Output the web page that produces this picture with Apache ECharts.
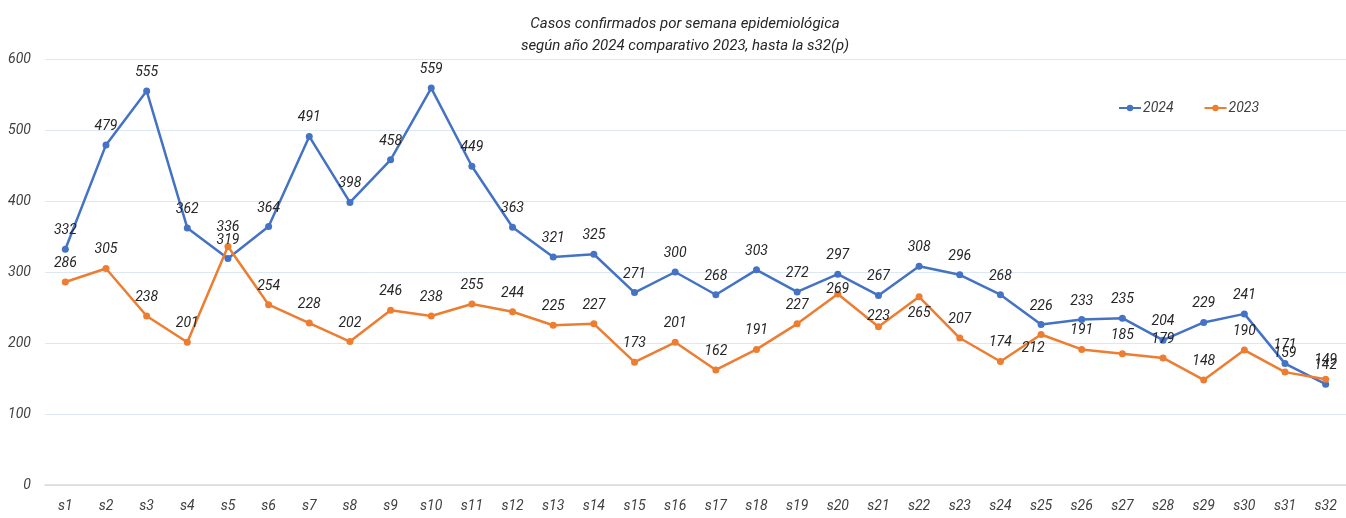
<!DOCTYPE html>
<html><head><meta charset="utf-8">
<script src="https://cdn.jsdelivr.net/npm/echarts@6/dist/echarts.min.js"></script>
<style>html,body{margin:0;padding:0;background:#fff}#c{width:1346px;height:518px}</style>
</head><body><div id="c"></div>
<script>
const categories = ['s1','s2','s3','s4','s5','s6','s7','s8','s9','s10','s11','s12','s13','s14','s15','s16','s17','s18','s19','s20','s21','s22','s23','s24','s25','s26','s27','s28','s29','s30','s31','s32'];
const values2024 = [332,479,555,362,319,364,491,398,458,559,449,363,321,325,271,300,268,303,272,297,267,308,296,268,226,233,235,204,229,241,171,142];
const values2023 = [286,305,238,201,336,254,228,202,246,238,255,244,225,227,173,201,162,191,227,269,223,265,207,174,212,191,185,179,148,190,159,149];
const yTicks = [0,100,200,300,400,500,600];
const FONT = '"Liberation Sans Narrow", "Roboto", sans-serif';
const chart = echarts.init(document.getElementById('c'));
const lbl = {show:true, position:'top', distance:8, color:'#262626', fontSize:14, fontStyle:'italic', fontFamily:FONT};
// a few labels in the reference sit off the usual "above" spot
const labelTweaks2023 = {19:{offset:[0,14]}, 20:{offset:[0,8]}, 21:{position:'bottom', distance:6}, 24:{position:'bottom', distance:4, offset:[-8,0]}};
const data2023 = values2023.map((v,i)=> labelTweaks2023[i] ? {value:v, label:labelTweaks2023[i]} : v);
chart.setOption({
  animation:false,
  title:{text:'Casos confirmados por semana epidemiológica\nsegún año 2024 comparativo 2023, hasta la s32(p)', left:680, textAlign:'center', top:8,
    textStyle:{fontSize:15, fontWeight:'normal', fontStyle:'italic', color:'#262626', fontFamily:FONT, lineHeight:22}},
  legend:{top:96, left:1113, itemGap:30, itemWidth:22, itemHeight:8,
    textStyle:{fontSize:14, fontStyle:'italic', color:'#404040', fontFamily:FONT, padding:[0,0,0,-3]},
    data:['2024','2023']},
  grid:{left:45, right:0, top:59, bottom:33},
  xAxis:{type:'category', data:categories, boundaryGap:true,
    axisLine:{lineStyle:{color:'#d9d9d9', width:1.5}}, axisTick:{show:false},
    axisLabel:{color:'#404040', fontSize:14, fontStyle:'italic', fontFamily:FONT, margin:14}},
  yAxis:{type:'value', min:0, max:600, interval:100,
    axisLine:{show:false}, axisTick:{show:false},
    splitLine:{lineStyle:{color:'#dce8f6', width:1}},
    axisLabel:{color:'#404040', fontSize:14, fontStyle:'italic', fontFamily:FONT, margin:14,
      formatter:v=>yTicks.includes(v)?String(v):''}},
  series:[
    {name:'2024', type:'line', data:values2024, symbol:'circle', symbolSize:7,
      itemStyle:{color:'#4472C4'}, lineStyle:{width:2.5, color:'#4472C4'}, label:lbl},
    {name:'2023', type:'line', data:data2023, symbol:'circle', symbolSize:7,
      itemStyle:{color:'#ED7D31'}, lineStyle:{width:2.5, color:'#ED7D31'}, label:lbl}
  ]
});
</script></body></html>
